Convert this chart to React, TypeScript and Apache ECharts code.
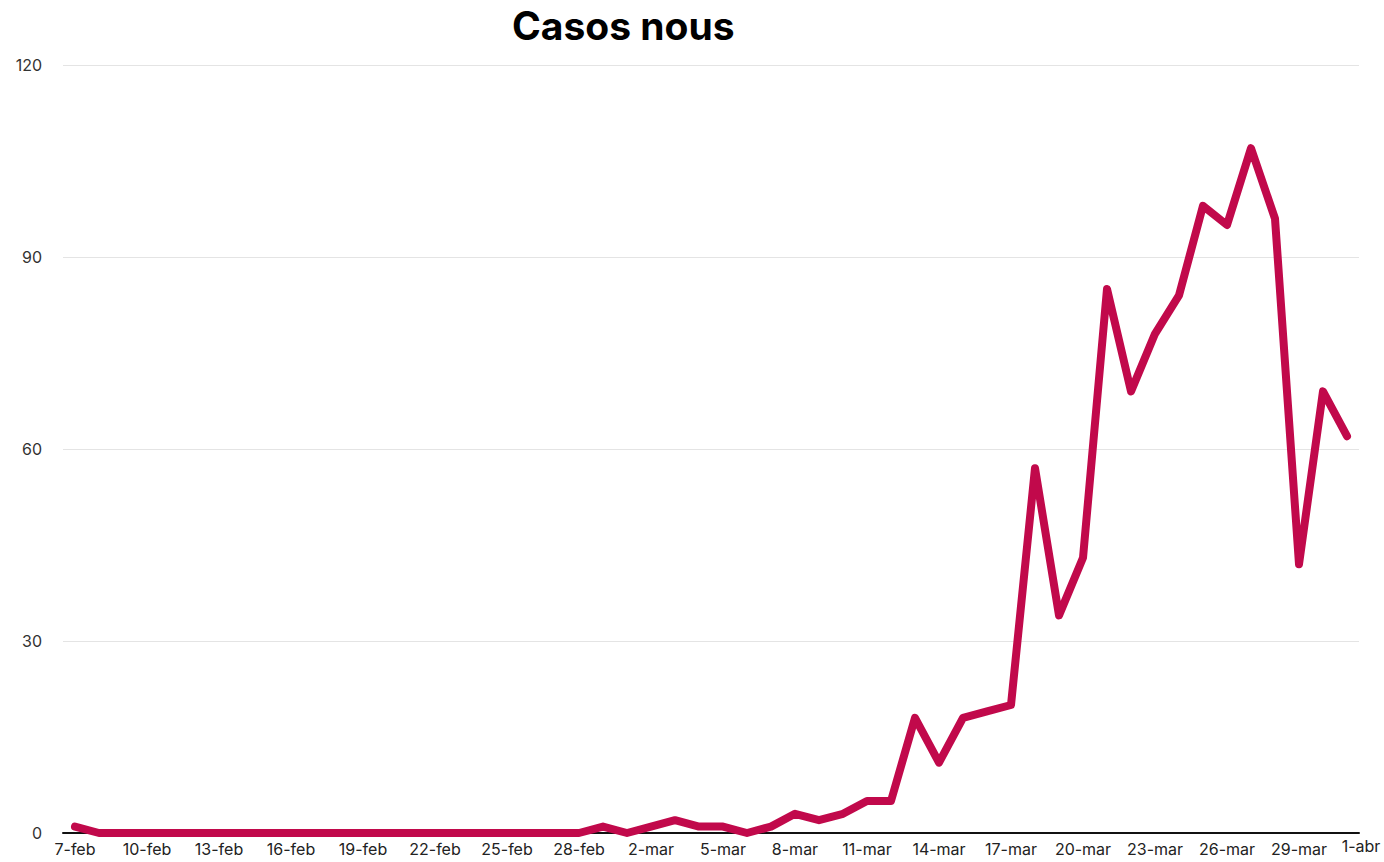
import React, { useEffect, useRef } from "react";
import * as echarts from "echarts";

const dates = [
  "7-feb", "8-feb", "9-feb", "10-feb", "11-feb", "12-feb", "13-feb", "14-feb", "15-feb", "16-feb",
  "17-feb", "18-feb", "19-feb", "20-feb", "21-feb", "22-feb", "23-feb", "24-feb", "25-feb", "26-feb",
  "27-feb", "28-feb", "29-feb", "1-mar", "2-mar", "3-mar", "4-mar", "5-mar", "6-mar", "7-mar",
  "8-mar", "9-mar", "10-mar", "11-mar", "12-mar", "13-mar", "14-mar", "15-mar", "16-mar", "17-mar",
  "18-mar", "19-mar", "20-mar", "21-mar", "22-mar", "23-mar", "24-mar", "25-mar", "26-mar", "27-mar",
  "28-mar", "29-mar", "30-mar", "31-mar",
];
const endLabel = "1-abr";

const newCases = [
  1, 0, 0, 0, 0, 0, 0, 0, 0, 0,
  0, 0, 0, 0, 0, 0, 0, 0, 0, 0,
  0, 0, 1, 0, 1, 2, 1, 1, 0, 1,
  3, 2, 3, 5, 5, 18, 11, 18, 19, 20,
  57, 34, 43, 85, 69, 78, 84, 98, 95, 107,
  96, 42, 69, 62,
];

const titleText = "Casos nous";
const FONT = "Inter, 'Noto Sans', sans-serif";

export default function App() {
  const ref = useRef<HTMLDivElement>(null);
  useEffect(() => {
    if (!ref.current) return;
    const chart = echarts.init(ref.current, null, { renderer: "svg" });
    chart.setOption({
      animation: false,
      backgroundColor: "#ffffff",
      title: {
        text: titleText,
        left: 507,
        top: 1,
        textStyle: { fontFamily: FONT, fontSize: 39, fontWeight: "bold", color: "#000000" },
      },
      grid: { left: 63, right: 25, top: 65, bottom: 29, containLabel: false },
      xAxis: {
        type: "category",
        data: dates,
        boundaryGap: true,
        axisLine: { show: true, lineStyle: { color: "#111111", width: 2 } },
        axisTick: { show: false },
        axisLabel: {
          interval: 2,
          color: "#222222",
          fontFamily: FONT,
          fontSize: 16,
          margin: 8,
        },
        name: endLabel,
        nameLocation: "end",
        nameGap: 2,
        nameTextStyle: {
          color: "#222222",
          fontFamily: FONT,
          fontSize: 16,
          align: "center",
          verticalAlign: "top",
          padding: [5, 0, 0, 0],
        },
        splitLine: { show: false },
      },
      yAxis: {
        type: "value",
        min: 0,
        max: 120,
        interval: 30,
        axisLine: { show: false },
        axisTick: { show: false },
        axisLabel: { color: "#333333", fontFamily: FONT, fontSize: 16, margin: 21 },
        splitLine: { show: true, lineStyle: { color: "#e4e4e4", width: 1 } },
      },
      series: [
        {
          type: "line",
          data: newCases,
          symbol: "none",
          lineStyle: { color: "#c1094b", width: 8, join: "round", cap: "round" },
        },
      ],
    });
    return () => chart.dispose();
  }, []);
  return (
    <div
      ref={ref}
      style={{ position: "fixed", left: 0, top: 0, width: 1384, height: 862 }}
    />
  );
}
